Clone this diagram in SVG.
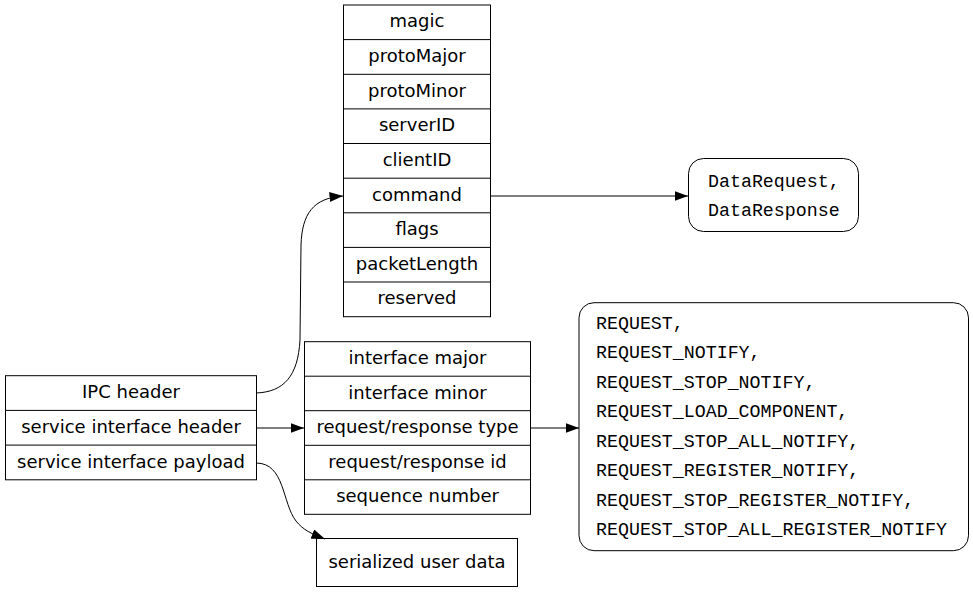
<svg xmlns="http://www.w3.org/2000/svg" width="973" height="592" viewBox="0 0 973 592">
<style>
  .box{fill:#fff;stroke:#000;stroke-width:1}
  .sep{stroke:#000;stroke-width:1}
  .t{font-family:"DejaVu Sans",sans-serif;font-size:18px;text-anchor:middle;fill:#000}
  .m{font-family:"Liberation Mono","DejaVu Sans Mono",monospace;font-size:18.3px;fill:#000}
  .e{fill:none;stroke:#000;stroke-width:1}
</style>
<defs>
  <marker id="arr" markerUnits="userSpaceOnUse" markerWidth="15" markerHeight="12" refX="13.5" refY="5" orient="auto">
    <path d="M0,0 L13.5,5 L0,10 Z" fill="#000"/>
  </marker>
</defs>
<rect width="973" height="592" fill="#fff"/>

<g id="ipc">
  <rect class="box" x="343.5" y="5" width="147" height="311.7"/>
  <path class="sep" d="M343.5,39.6H490.5M343.5,74.3H490.5M343.5,108.9H490.5M343.5,143.5H490.5M343.5,178.2H490.5M343.5,212.8H490.5M343.5,247.4H490.5M343.5,282H490.5"/>
  <text class="t" x="417" y="27.3">magic</text>
  <text class="t" x="417" y="62">protoMajor</text>
  <text class="t" x="417" y="96.6">protoMinor</text>
  <text class="t" x="417" y="131.2">serverID</text>
  <text class="t" x="417" y="165.9">clientID</text>
  <text class="t" x="417" y="200.5">command</text>
  <text class="t" x="417" y="235.1">flags</text>
  <text class="t" x="417" y="269.7">packetLength</text>
  <text class="t" x="417" y="304.4">reserved</text>
</g>

<g id="commands">
  <rect class="box" x="688.5" y="158.5" width="170" height="73" rx="15" ry="15"/>
  <text class="m" x="708" y="187">DataRequest,</text>
  <text class="m" x="708" y="216">DataResponse</text>
</g>

<g id="packet">
  <rect class="box" x="5.5" y="375.7" width="251" height="104.1"/>
  <path class="sep" d="M5.5,410.4H256.5M5.5,445.1H256.5"/>
  <text class="t" x="131" y="398.3">IPC header</text>
  <text class="t" x="131" y="433">service interface header</text>
  <text class="t" x="131" y="467.5">service interface payload</text>
</g>

<g id="sih">
  <rect class="box" x="304.5" y="341.7" width="226" height="172.6"/>
  <path class="sep" d="M304.5,376.2H530.5M304.5,410.7H530.5M304.5,445.3H530.5M304.5,479.8H530.5"/>
  <text class="t" x="417.5" y="364">interface major</text>
  <text class="t" x="417.5" y="398.5">interface minor</text>
  <text class="t" x="417.5" y="433">request/response type</text>
  <text class="t" x="417.5" y="467.6">request/response id</text>
  <text class="t" x="417.5" y="502">sequence number</text>
</g>

<g id="types">
  <rect class="box" x="579" y="302.7" width="389.5" height="248" rx="15" ry="15"/>
  <text class="m" x="596" y="328.5">REQUEST,</text>
  <text class="m" x="596" y="358">REQUEST_NOTIFY,</text>
  <text class="m" x="596" y="387.5">REQUEST_STOP_NOTIFY,</text>
  <text class="m" x="596" y="417">REQUEST_LOAD_COMPONENT,</text>
  <text class="m" x="596" y="446.5">REQUEST_STOP_ALL_NOTIFY,</text>
  <text class="m" x="596" y="476">REQUEST_REGISTER_NOTIFY,</text>
  <text class="m" x="596" y="505.5">REQUEST_STOP_REGISTER_NOTIFY,</text>
  <text class="m" x="596" y="535">REQUEST_STOP_ALL_REGISTER_NOTIFY</text>
</g>

<g id="payload">
  <rect class="box" x="316.5" y="538.5" width="201" height="48"/>
  <text class="t" x="417" y="567.5">serialized user data</text>
</g>

<g id="edges">
  <path class="e" marker-end="url(#arr)" d="M256,393 C284,392 298,376 300,340 L301,245 C302,214 313,198 343,196"/>
  <path class="e" marker-end="url(#arr)" d="M491,196 L688,196"/>
  <path class="e" marker-end="url(#arr)" d="M256,428 L304,428"/>
  <path class="e" marker-end="url(#arr)" d="M531,428 L579,428"/>
  <path class="e" marker-end="url(#arr)" d="M256,463 C285,463 282,503 296,521 C303,530 312,534 325,539"/>
</g>
</svg>
